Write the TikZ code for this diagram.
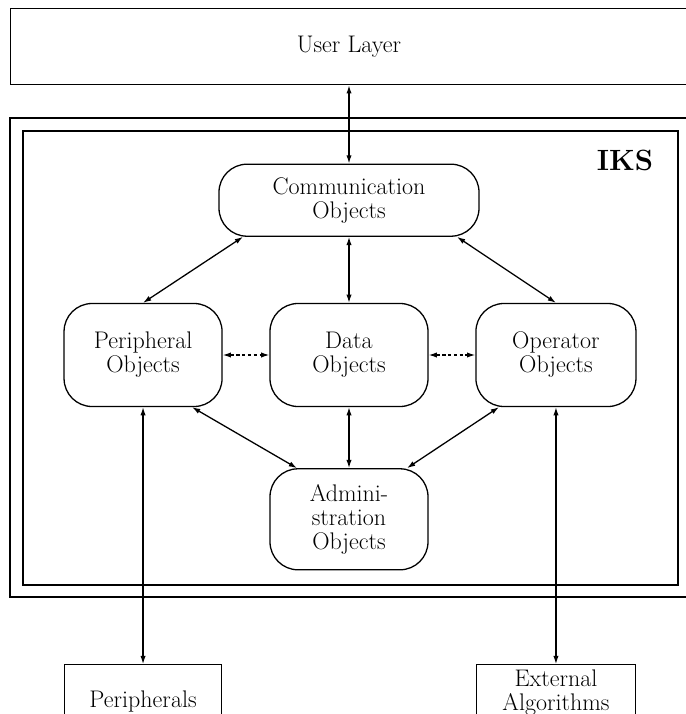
\documentclass[tikz,border=0pt]{standalone}
\usepackage{tikz}
\usetikzlibrary{
arrows.meta,
positioning
}
\tikzset{>={Latex[length=7pt,width=4.5pt]}}

\begin{document}
\begin{tikzpicture}[node distance=1.4cm, line width=1.1pt, font=\fontsize{20.5}{20.5}\selectfont,
	obj/.style={draw,rounded corners=0.84cm,minimum width=4.74cm,minimum height=3.09cm,align=center},
	box/.style={draw,align=center}]
	\useasboundingbox (0,0) rectangle (20.55,-21.42);

	% layers
	\node[box,anchor=north west,minimum width=21cm,minimum height=2.28cm] (user) at (0.3,-0.24) {};
	\draw (20.9,-3.54) -- (0.3,-3.54) -- (0.3,-17.91) -- (20.9,-17.91);
	\draw (0.69,-3.93) rectangle (20.34,-17.55);
	\node (iks) at (18.75,-4.8) {\fontsize{25}{30}\selectfont\bfseries IKS};

	% objects inside IKS
	\node[obj] (data) at (10.47,-10.65) {Data\\Objects};
	\node[obj,left=of data] (periph) {Peripheral\\Objects};
	\node[obj,minimum width=4.8cm,right=of data] (oper) {Operator\\Objects};
	\node[obj,minimum width=7.8cm,minimum height=2.16cm,above=1.98cm of data] (comm) {Communication\\Objects};
	\node[obj,minimum height=3.03cm,below=1.83cm of data] (admin) {Admini-\\stration\\Objects};
	\node (usertext) at (user -| comm) {User Layer};

	% outside world
	\node[box,minimum width=4.71cm,minimum height=2.2cm,below=7.71cm of periph] (peripherals) {Peripherals};
	\node[box,minimum width=4.77cm,minimum height=1.66cm,below=7.71cm of oper] (external) {External\\Algorithms};

	% connections
	\draw[<->] (comm.north |- user.south) -- (comm.north);
	\draw[<->] (comm) -- (data);
	\draw[<->] (data) -- (admin);
	\draw[<->] ([xshift=-3.18cm]comm.south) -- (periph.north);
	\draw[<->] ([xshift=3.24cm]comm.south) -- (oper.north);
	\draw[<->] ([xshift=1.47cm]periph.south) -- ([xshift=-1.56cm]admin.north);
	\draw[<->] ([xshift=-1.71cm]oper.south) -- ([xshift=1.74cm]admin.north);
	\draw[<->,dash pattern=on 3pt off 2pt] (periph) -- (data);
	\draw[<->,dash pattern=on 3pt off 2pt] (data) -- (oper);
	\draw[<->] (periph) -- (peripherals);
	\draw[<->] (oper) -- (external);
\end{tikzpicture}
\end{document}
